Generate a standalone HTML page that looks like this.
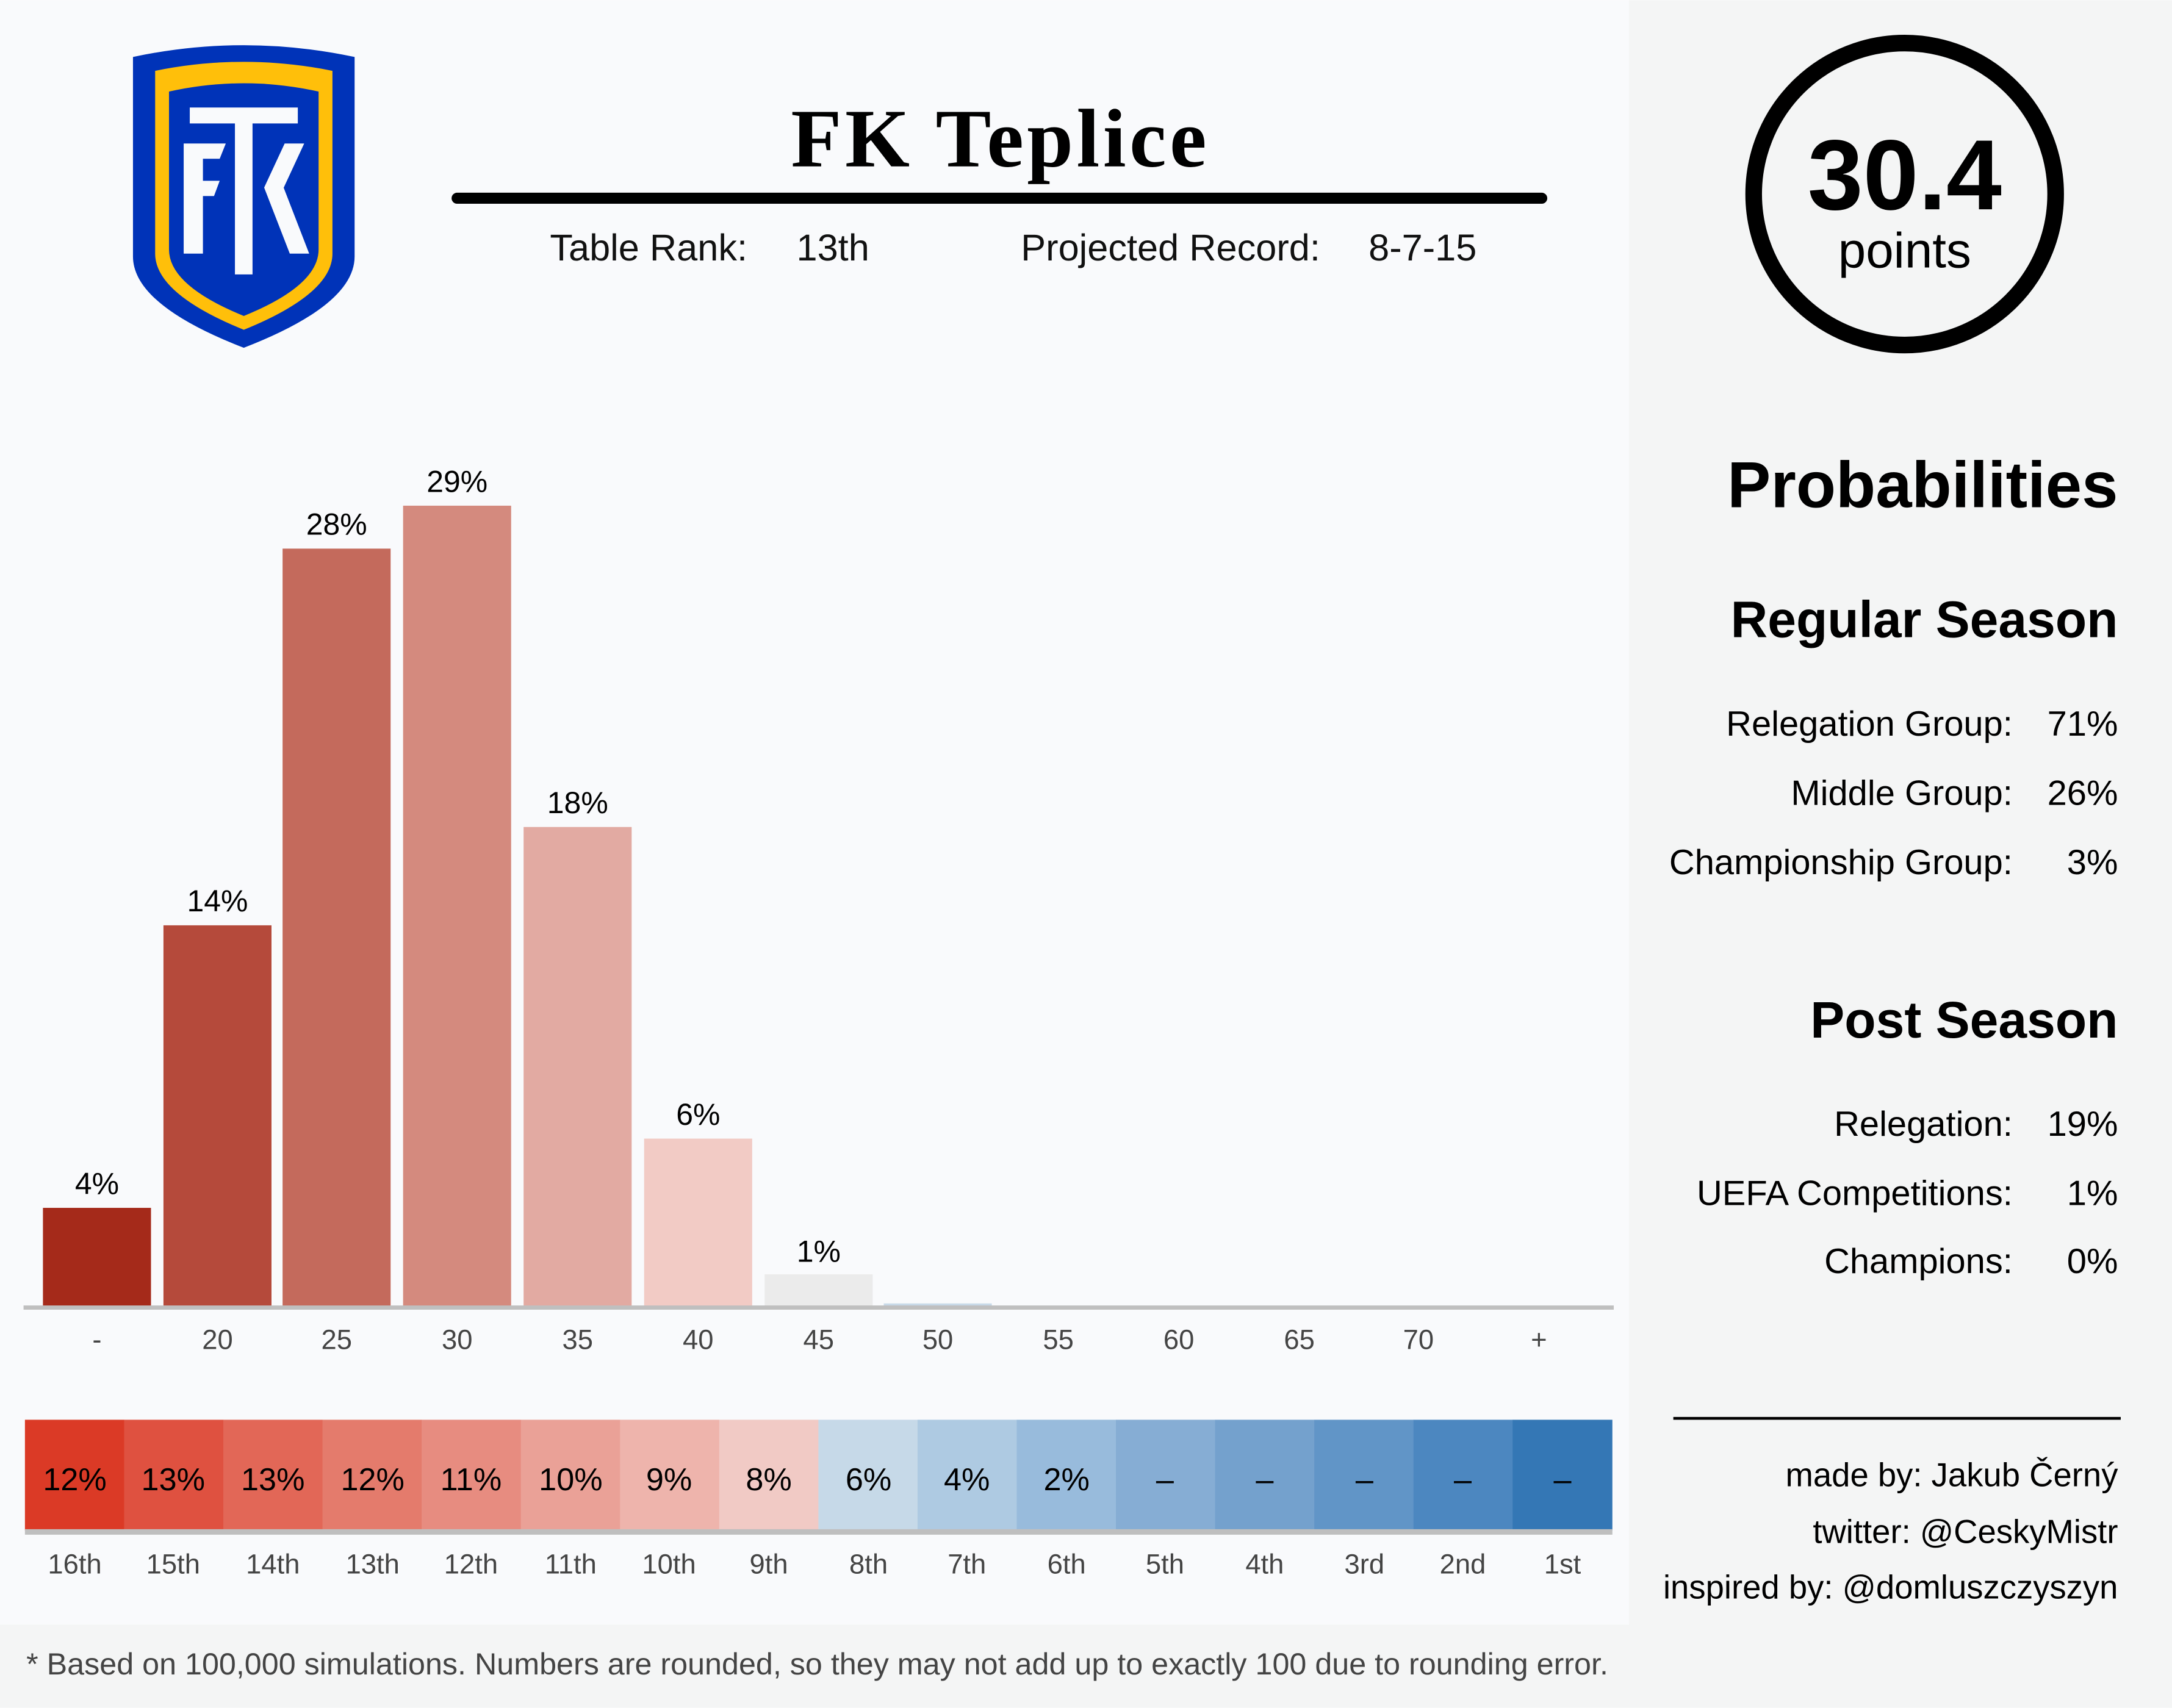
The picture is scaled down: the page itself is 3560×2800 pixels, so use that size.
<!DOCTYPE html>
<html><head><meta charset="utf-8"><style>html,body{margin:0;padding:0}svg{display:block}</style></head><body>
<svg width="3560" height="2800" viewBox="0 0 1568 1233" xmlns="http://www.w3.org/2000/svg" font-family="'Liberation Sans', sans-serif">
<rect width="1568" height="1233" fill="#f4f5f5"/>
<rect width="1176" height="1173" fill="#f9fafc"/>
<!-- logo -->
<path d="M96,41 Q176,24 256,41 L256,185 Q256,220 176,251 Q96,220 96,185 Z" fill="#0033b8"/>
<path d="M112,51 Q176,38 240,51 L240,183 Q240,212 176,238 Q112,212 112,183 Z" fill="#ffbf0a"/>
<path d="M122,66 Q176,54 230,66 L230,180 Q230,206 176,228 Q122,206 122,180 Z" fill="#0033b8"/>
<g fill="#f9fafc">
<path d="M137,77.5 H215 V89 H182.3 V198 H169.6 V89 H137 Z"/>
<path d="M132.6,103.5 H163 L158.6,114.5 H146.5 V130.4 H158.6 L154.5,141.4 H146.5 V183 H132.6 Z"/>
<path d="M205.5,103.5 H219.6 L204.8,135.4 L223.2,183 H209.2 L190.7,135.3 Z"/>
</g>
<!-- title -->
<text x="721" y="120" font-family="'Liberation Serif', serif" font-weight="bold" font-size="60" text-anchor="middle" textLength="300">FK Teplice</text>
<line x1="330" y1="143" x2="1113" y2="143" stroke="#000" stroke-width="8" stroke-linecap="round"/>
<text x="397" y="188" font-size="27" fill="#111">Table Rank:</text><text x="575" y="188" font-size="27" fill="#111">13th</text>
<text x="737" y="188" font-size="27" fill="#111">Projected Record:</text><text x="988" y="188" font-size="27" fill="#111">8-7-15</text>
<!-- circle -->
<circle cx="1375" cy="140" r="109" fill="none" stroke="#000" stroke-width="12"/>
<text x="1375" y="151" font-size="72" font-weight="bold" text-anchor="middle">30.4</text>
<text x="1375" y="193" font-size="36" text-anchor="middle">points</text>
<!-- right panel -->
<g text-anchor="end">
<text x="1529" y="366" font-size="47" font-weight="bold">Probabilities</text>
<text x="1529" y="460" font-size="37" font-weight="bold">Regular Season</text>
<text x="1453" y="531" font-size="25.5">Relegation Group:</text><text x="1529" y="531" font-size="25.5">71%</text>
<text x="1453" y="581" font-size="25.5">Middle Group:</text><text x="1529" y="581" font-size="25.5">26%</text>
<text x="1453" y="631" font-size="25.5">Championship Group:</text><text x="1529" y="631" font-size="25.5">3%</text>
<text x="1529" y="749" font-size="37" font-weight="bold">Post Season</text>
<text x="1453" y="820" font-size="25.5">Relegation:</text><text x="1529" y="820" font-size="25.5">19%</text>
<text x="1453" y="870" font-size="25.5">UEFA Competitions:</text><text x="1529" y="870" font-size="25.5">1%</text>
<text x="1453" y="919" font-size="25.5">Champions:</text><text x="1529" y="919" font-size="25.5">0%</text>
<text x="1529" y="1073" font-size="24">made by: Jakub Černý</text>
<text x="1529" y="1114" font-size="24">twitter: @CeskyMistr</text>
<text x="1529" y="1154" font-size="24">inspired by: @domluszczyszyn</text>
</g>
<line x1="1208" y1="1024" x2="1531" y2="1024" stroke="#000" stroke-width="2"/>
<!-- bars -->
<g>
<rect x="31" y="872" width="78" height="71" fill="#a52a1a"/>
<rect x="118" y="668" width="78" height="275" fill="#b54a3b"/>
<rect x="204" y="396" width="78" height="547" fill="#c46a5c"/>
<rect x="291" y="365" width="78" height="578" fill="#d48a7e"/>
<rect x="378" y="597" width="78" height="346" fill="#e2aaa2"/>
<rect x="465" y="822" width="78" height="121" fill="#f2cbc5"/>
<rect x="552" y="920" width="78" height="23" fill="#ebebeb"/>
<rect x="638" y="941" width="78" height="2" fill="#c8d9e8"/>
</g>
<line x1="17" y1="944" x2="1165" y2="944" stroke="#bfbfbf" stroke-width="3"/>
<g font-size="22" text-anchor="middle">
<text x="70" y="862">4%</text><text x="157" y="658">14%</text><text x="243" y="386">28%</text><text x="330" y="355">29%</text><text x="417" y="587">18%</text><text x="504" y="812">6%</text><text x="591" y="911">1%</text>
</g>
<g font-size="20" text-anchor="middle" fill="#444">
<text x="70" y="974">-</text><text x="157" y="974">20</text><text x="243" y="974">25</text><text x="330" y="974">30</text><text x="417" y="974">35</text><text x="504" y="974">40</text><text x="591" y="974">45</text><text x="677" y="974">50</text><text x="764" y="974">55</text><text x="851" y="974">60</text><text x="938" y="974">65</text><text x="1024" y="974">70</text><text x="1111" y="974">+</text>
</g>
<!-- heatmap -->
<g>
<rect x="18" y="1025" width="72" height="80" fill="#db3a26"/>
<rect x="89.6" y="1025" width="72" height="80" fill="#df5140"/>
<rect x="161.2" y="1025" width="72" height="80" fill="#e26757"/>
<rect x="232.8" y="1025" width="72" height="80" fill="#e47b6c"/>
<rect x="304.4" y="1025" width="72" height="80" fill="#e78c80"/>
<rect x="376" y="1025" width="72" height="80" fill="#eaa197"/>
<rect x="447.6" y="1025" width="72" height="80" fill="#eeb4ac"/>
<rect x="519.2" y="1025" width="72" height="80" fill="#f1cac5"/>
<rect x="590.8" y="1025" width="72" height="80" fill="#c6d9e8"/>
<rect x="662.4" y="1025" width="72" height="80" fill="#aecae2"/>
<rect x="734" y="1025" width="72" height="80" fill="#98bbdc"/>
<rect x="805.6" y="1025" width="72" height="80" fill="#86add4"/>
<rect x="877.2" y="1025" width="72" height="80" fill="#74a1cd"/>
<rect x="948.8" y="1025" width="72" height="80" fill="#6195c7"/>
<rect x="1020.4" y="1025" width="72" height="80" fill="#4c87c0"/>
<rect x="1092" y="1025" width="72" height="80" fill="#3477b5"/>
</g>
<line x1="18" y1="1106" x2="1164" y2="1106" stroke="#bfbfbf" stroke-width="4"/>
<g font-size="23" text-anchor="middle">
<text x="54" y="1076">12%</text><text x="125" y="1076">13%</text><text x="197" y="1076">13%</text><text x="269" y="1076">12%</text><text x="340" y="1076">11%</text><text x="412" y="1076">10%</text><text x="483" y="1076">9%</text><text x="555" y="1076">8%</text><text x="627" y="1076">6%</text><text x="698" y="1076">4%</text><text x="770" y="1076">2%</text><text x="841" y="1076">–</text><text x="913" y="1076">–</text><text x="985" y="1076">–</text><text x="1056" y="1076">–</text><text x="1128" y="1076">–</text>
</g>
<g font-size="20" text-anchor="middle" fill="#444">
<text x="54" y="1136">16th</text><text x="125" y="1136">15th</text><text x="197" y="1136">14th</text><text x="269" y="1136">13th</text><text x="340" y="1136">12th</text><text x="412" y="1136">11th</text><text x="483" y="1136">10th</text><text x="555" y="1136">9th</text><text x="627" y="1136">8th</text><text x="698" y="1136">7th</text><text x="770" y="1136">6th</text><text x="841" y="1136">5th</text><text x="913" y="1136">4th</text><text x="985" y="1136">3rd</text><text x="1056" y="1136">2nd</text><text x="1128" y="1136">1st</text>
</g>
<text x="19" y="1209" font-size="22" fill="#444" textLength="1142" lengthAdjust="spacingAndGlyphs">* Based on 100,000 simulations. Numbers are rounded, so they may not add up to exactly 100 due to rounding error.</text>
</svg>
</body></html>
